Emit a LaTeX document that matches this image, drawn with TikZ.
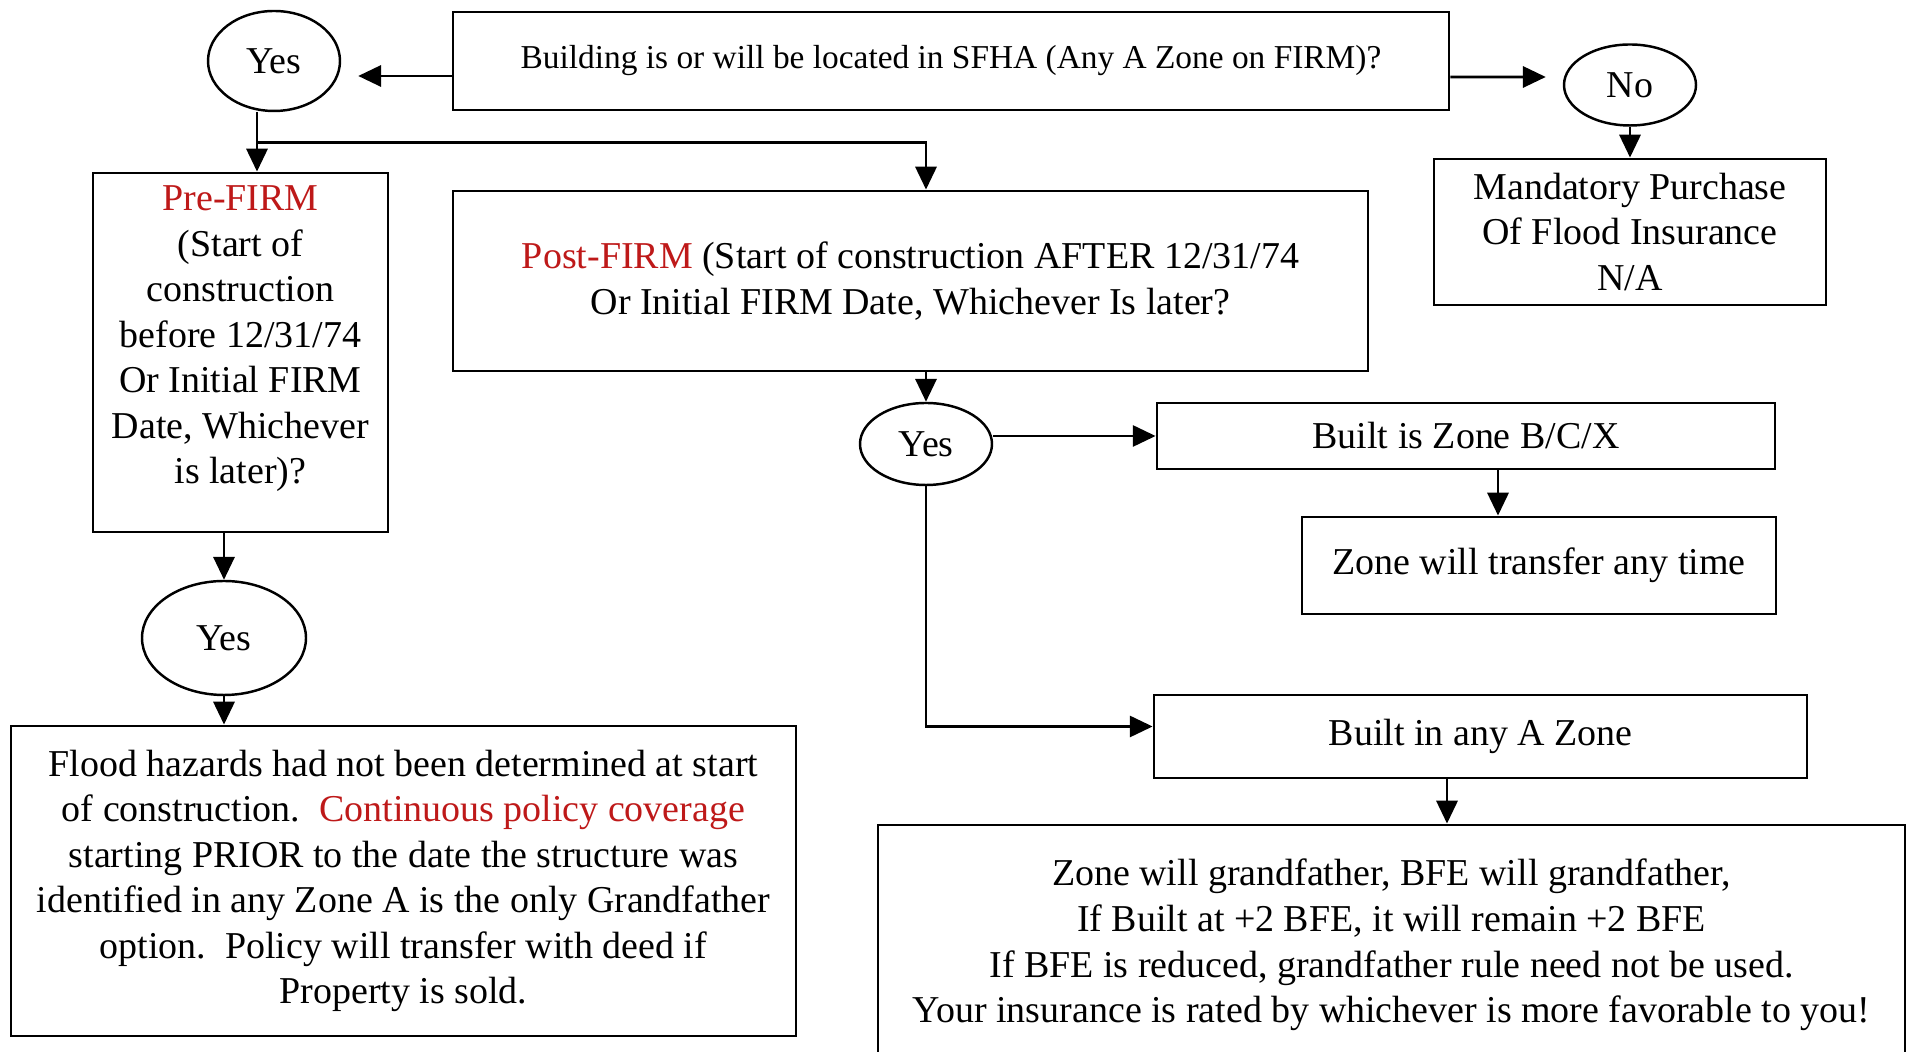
\documentclass[tikz,border=0pt]{standalone}
\usepackage{fontspec}
\setmainfont{Liberation Serif}
\usetikzlibrary{arrows.meta,shapes.geometric}
\definecolor{firmred}{RGB}{190,25,25}

\begin{document}
\begin{tikzpicture}[
    box/.style={draw, line width=0.8pt, inner sep=0pt, align=center,
        font={\fontsize{10.8}{12.95}\selectfont}},
    yesno/.style={draw, ellipse, line width=0.7pt, inner sep=0pt,
        font={\fontsize{10.8}{12.95}\selectfont}},
    arr/.style={-{Triangle[length=6.5pt,width=6pt]}, line width=0.8pt}
]
    % Page frame
    \useasboundingbox (0,0) rectangle (19.11,-10.52);
    \clip (0,0) rectangle (19.11,-10.52);

    % Top question and its two answers
    \node[box, minimum width=9.96cm, minimum height=0.98cm,
        font={\fontsize{9.5}{11.5}\selectfont}] (sfha) at (9.51,-0.61)
        {Building is or will be located in SFHA (Any A Zone on FIRM)?};
    \node[yesno, minimum width=1.32cm, minimum height=1.0cm] (yes1) at (2.74,-0.61) {Yes};
    \node[yesno, minimum width=1.32cm, minimum height=0.81cm] (no) at (16.30,-0.85) {No};
    \node[box, minimum width=3.92cm, minimum height=1.46cm] (mandatory) at (16.30,-2.32)
        {Mandatory Purchase\\Of Flood Insurance\\N/A};

    % Pre-FIRM branch
    \node[box, minimum width=2.95cm, minimum height=3.59cm] (prefirm) at (2.405,-3.525)
        {\textcolor{firmred}{Pre-FIRM}\\(Start of\\construction\\before 12/31/74\\Or Initial FIRM\\Date, Whichever\\is later)?\\[-0.1cm]\rule{0pt}{0pt}};
    \node[yesno, minimum width=1.64cm, minimum height=1.14cm] (yes3) at (2.24,-6.38) {Yes};
    \node[box, minimum width=7.85cm, minimum height=3.10cm] (prior) at (4.035,-8.81)
        {Flood hazards had not been determined at start\\
         of construction.\ \ \textcolor{firmred}{Continuous policy coverage}\\
         starting PRIOR to the date the structure was\\
         identified in any Zone A is the only Grandfather\\
         option.\ \ Policy will transfer with deed if\\
         Property is sold.};

    % Post-FIRM branch
    \node[box, minimum width=9.15cm, minimum height=1.80cm] (postfirm) at (9.105,-2.81)
        {\textcolor{firmred}{Post-FIRM} (Start of construction AFTER 12/31/74\\
         Or Initial FIRM Date, Whichever Is later?};
    \node[yesno, minimum width=1.32cm, minimum height=0.82cm] (yes2) at (9.26,-4.44) {Yes};
    \node[box, minimum width=6.18cm, minimum height=0.66cm] (zonebcx) at (14.66,-4.36)
        {Built is Zone B/C/X};
    \node[box, minimum width=4.74cm, minimum height=0.97cm] (transfer) at (15.39,-5.655)
        {Zone will transfer any time};
    \node[box, minimum width=6.53cm, minimum height=0.83cm] (zonea) at (14.805,-7.365)
        {Built in any A Zone};
    \node[box, minimum width=10.27cm, minimum height=2.40cm] (grandfather) at (13.915,-9.45)
        {Zone will grandfather, BFE will grandfather,\\
         If Built at +2 BFE, it will remain +2 BFE\\
         If BFE is reduced, grandfather rule need not be used.\\
         Your insurance is rated by whichever is more favorable to you!};

    % Connectors from the top question
    \draw[arr] ([yshift=-.15cm]sfha.west) -- ([xshift=.17cm,yshift=-.15cm]yes1.east);
    \draw[arr] ([yshift=-.16cm]sfha.east) -- ([xshift=-.17cm,yshift=.08cm]no.west);
    \draw[arr] (no) -- (mandatory);

    % Split under the first Yes
    \coordinate (fork) at ([xshift=-.17cm,yshift=-.30cm]yes1.south);
    \draw[arr] ([xshift=-.17cm]yes1.south) -- ([xshift=-.17cm]yes1.south |- prefirm.north);
    \draw[arr] (fork) -| (yes2.north |- postfirm.north);

    % Pre-FIRM chain
    \draw[arr] (yes3.north |- prefirm.south) -- (yes3.north);
    \draw[arr] (yes3.south) -- (yes3.south |- prior.north);

    % Post-FIRM chain
    \draw[arr] (yes2.north |- postfirm.south) -- (yes2.north);
    \draw[arr] (yes2.east |- zonebcx.west) -- (zonebcx.west);
    \draw[arr] ([xshift=.32cm]zonebcx.south) -- ([xshift=.32cm]zonebcx.south |- transfer.north);
    \draw[arr] (yes2.south) |- ([yshift=.1cm]zonea.west);
    \draw[arr] ([xshift=-.335cm]zonea.south) -- ([xshift=-.335cm]zonea.south |- grandfather.north);

\end{tikzpicture}
\end{document}
